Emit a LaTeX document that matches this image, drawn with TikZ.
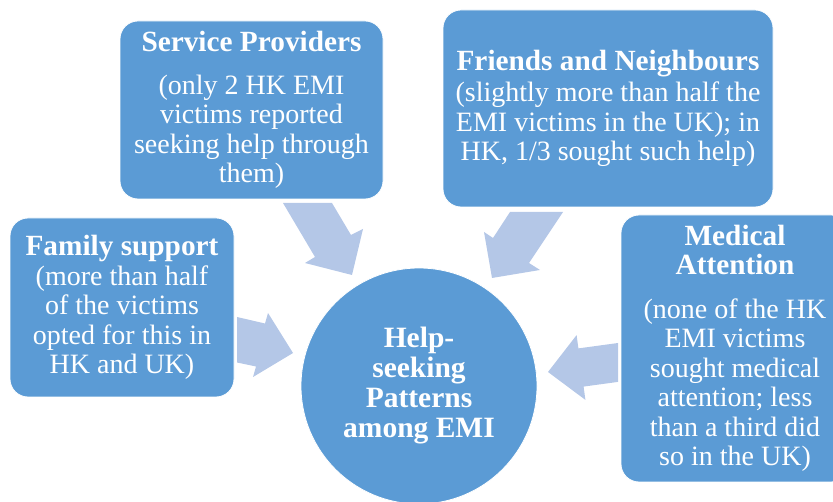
\documentclass[tikz,border=0pt]{standalone}
\usepackage{fontspec}
\setmainfont{Liberation Serif}
\definecolor{boxblue}{HTML}{5B9BD5}
\definecolor{arrowblue}{HTML}{B4C7E7}
\newcommand{\ttl}[1]{{\fontsize{29.3}{29.5}\selectfont\textbf{#1}}}
\begin{document}
\begin{tikzpicture}[x=1pt,y=-1pt,
  box/.style={rectangle,rounded corners=18pt,fill=boxblue,draw=white,line width=0.8pt,
    text=white,align=center,inner sep=0pt,font=\fontsize{28}{29.5}\selectfont},
  hub/.style={circle,fill=boxblue,draw=white,line width=0.8pt,text=white,align=center,
    inner sep=0pt,minimum size=236pt,font=\fontsize{29.5}{30}\selectfont\bfseries},
  blockarrow/.style={fill=arrowblue,draw=none}]
\useasboundingbox (0,0) rectangle (833,502);
\begin{scope}
\clip (0,0) rectangle (833,502);
% block arrows
\fill[blockarrow] (283,203) -- (332,203) -- (351,235) -- (363,229) -- (352,275) -- (305,263) -- (315,257) -- cycle;
\fill[blockarrow] (510,212) -- (563,212) -- (529,263) -- (540,270) -- (492,278) -- (484,232) -- (493,238) -- cycle;
\fill[blockarrow] (237,317) -- (265,323.5) -- (268,313) -- (293,353) -- (253,377) -- (256,366.5) -- (237,362.5) -- cycle;
\fill[blockarrow] (618,343) -- (578.4,348.4) -- (576.6,335.1) -- (548,372) -- (585.4,399.9) -- (583.6,386.6) -- (618,381.9) -- cycle;
% boxes
\node[box,minimum width=263pt,minimum height=178pt] (sp) at (251.5,110)
  {\ttl{Service Providers}\\[13pt](only 2 HK EMI\\victims reported\\seeking help through\\them)};
\node[box,minimum width=330pt,minimum height=197pt] (fn) at (608,108.5)
  {\ttl{Friends and Neighbours}\\[1.5pt](slightly more than half the\\EMI victims in the UK); in\\HK, 1/3 sought such help)};
\node[box,minimum width=224pt,minimum height=179pt] (fs) at (122,307.5)
  {\ttl{Family support}\\(more than half\\of the victims\\opted for this in\\HK and UK)};
\node[box,minimum width=228pt,minimum height=267pt] (ma) at (735,348.5)
  {\ttl{Medical}\\\ttl{Attention}\\[14pt](none of the HK\\EMI victims\\sought medical\\attention; less\\than a third did\\so in the UK)};
\node[hub] (hub) at (419,386)
  {Help-\\seeking\\Patterns\\among EMI};
\end{scope}
\end{tikzpicture}
\end{document}
